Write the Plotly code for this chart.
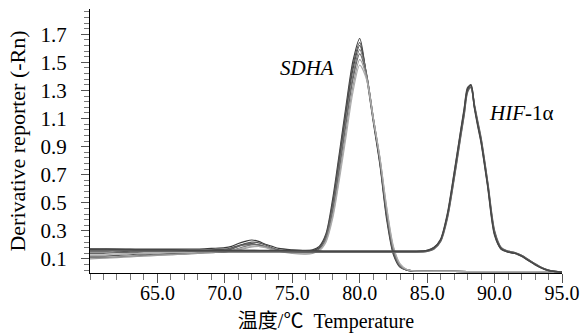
import plotly.graph_objects as go

# ---------------- data ----------------
sdha_x = [60, 61, 62, 63, 64, 65, 66, 67, 68, 69, 70, 70.5, 71, 71.5, 72, 72.5, 73, 73.5, 74, 75, 76, 76.5,
          77, 77.5, 78, 78.5, 79, 79.5, 80, 80.5, 81, 81.5, 82, 82.5, 83, 83.5,
          84, 86, 88, 90, 92, 94, 95]

sdha_1 = [0.17, 0.17, 0.17, 0.17, 0.17, 0.17, 0.17, 0.17, 0.17, 0.175, 0.18, 0.19, 0.21, 0.225, 0.235, 0.225, 0.205, 0.19, 0.175, 0.165, 0.16, 0.165,
          0.19, 0.28, 0.53, 0.86, 1.20, 1.51, 1.67, 1.40, 1.08, 0.77, 0.38, 0.13, 0.04, 0.02,
          0.015, 0.012, 0.01, 0.01, 0.01, 0.008, 0.005]
sdha_2 = [0.12, 0.12, 0.125, 0.13, 0.13, 0.135, 0.14, 0.14, 0.145, 0.15, 0.16, 0.17, 0.19, 0.21, 0.22, 0.215, 0.20, 0.18, 0.165, 0.15, 0.15, 0.155,
          0.18, 0.27, 0.50, 0.83, 1.17, 1.48, 1.64, 1.41, 1.09, 0.78, 0.40, 0.14, 0.045, 0.02,
          0.015, 0.012, 0.01, 0.01, 0.01, 0.008, 0.005]
sdha_3 = [0.15, 0.15, 0.15, 0.155, 0.155, 0.16, 0.16, 0.16, 0.16, 0.165, 0.17, 0.18, 0.195, 0.205, 0.21, 0.20, 0.185, 0.17, 0.16, 0.155, 0.155, 0.16,
          0.18, 0.26, 0.48, 0.80, 1.14, 1.45, 1.62, 1.42, 1.10, 0.79, 0.41, 0.15, 0.05, 0.02,
          0.015, 0.012, 0.01, 0.01, 0.01, 0.008, 0.005]
sdha_4 = [0.11, 0.11, 0.115, 0.12, 0.125, 0.13, 0.13, 0.135, 0.14, 0.145, 0.15, 0.16, 0.175, 0.19, 0.20, 0.20, 0.19, 0.175, 0.16, 0.145, 0.14, 0.145,
          0.17, 0.25, 0.46, 0.77, 1.10, 1.41, 1.59, 1.42, 1.11, 0.80, 0.43, 0.16, 0.05, 0.022,
          0.015, 0.012, 0.01, 0.01, 0.01, 0.008, 0.005]
sdha_5 = [0.14, 0.14, 0.145, 0.145, 0.15, 0.15, 0.15, 0.15, 0.155, 0.16, 0.165, 0.175, 0.19, 0.20, 0.205, 0.20, 0.185, 0.17, 0.16, 0.15, 0.145, 0.15,
          0.17, 0.24, 0.44, 0.74, 1.07, 1.38, 1.56, 1.41, 1.11, 0.81, 0.44, 0.17, 0.055, 0.022,
          0.015, 0.012, 0.01, 0.01, 0.01, 0.008, 0.005]
sdha_6 = [0.10, 0.105, 0.11, 0.115, 0.12, 0.125, 0.13, 0.135, 0.14, 0.145, 0.15, 0.155, 0.165, 0.175, 0.185, 0.19, 0.185, 0.17, 0.155, 0.14, 0.135, 0.14,
          0.16, 0.23, 0.41, 0.70, 1.02, 1.33, 1.52, 1.40, 1.11, 0.82, 0.46, 0.18, 0.06, 0.025,
          0.015, 0.012, 0.01, 0.01, 0.01, 0.008, 0.005]
sdha_7 = [0.13, 0.13, 0.135, 0.14, 0.14, 0.14, 0.145, 0.145, 0.15, 0.15, 0.155, 0.16, 0.17, 0.18, 0.19, 0.19, 0.18, 0.165, 0.155, 0.145, 0.14, 0.145,
          0.16, 0.22, 0.39, 0.67, 0.98, 1.29, 1.48, 1.38, 1.10, 0.82, 0.47, 0.19, 0.065, 0.025,
          0.015, 0.012, 0.01, 0.01, 0.01, 0.008, 0.005]

hif_x = [60, 62, 64, 66, 68, 70, 72, 74, 76, 78, 80, 82, 84, 85, 85.5, 86, 86.5, 87, 87.5, 87.75, 88, 88.25, 88.5,
         88.75, 89, 89.5, 90, 90.5, 91, 91.5, 92, 92.5, 93, 93.5, 94, 94.5, 95]

hif_1 = [0.17, 0.165, 0.165, 0.16, 0.16, 0.16, 0.16, 0.155, 0.155, 0.155, 0.155, 0.155, 0.155, 0.16, 0.18, 0.235, 0.41, 0.70, 1.01, 1.16, 1.32, 1.335, 1.19,
         1.06, 0.94, 0.62, 0.28, 0.17, 0.15, 0.14, 0.12, 0.09, 0.06, 0.035, 0.018, 0.01, 0.005]
hif_2 = [0.165, 0.16, 0.16, 0.16, 0.155, 0.155, 0.155, 0.155, 0.15, 0.15, 0.15, 0.15, 0.15, 0.155, 0.175, 0.23, 0.40, 0.68, 0.99, 1.14, 1.30, 1.325, 1.19,
         1.07, 0.95, 0.63, 0.29, 0.175, 0.155, 0.145, 0.125, 0.095, 0.065, 0.037, 0.02, 0.01, 0.005]
hif_3 = [0.16, 0.16, 0.155, 0.155, 0.155, 0.15, 0.15, 0.15, 0.15, 0.15, 0.15, 0.15, 0.15, 0.155, 0.17, 0.225, 0.39, 0.67, 0.98, 1.13, 1.29, 1.32, 1.20,
         1.08, 0.96, 0.64, 0.30, 0.18, 0.155, 0.145, 0.125, 0.095, 0.065, 0.038, 0.02, 0.01, 0.005]
hif_4 = [0.17, 0.17, 0.165, 0.165, 0.16, 0.16, 0.16, 0.16, 0.16, 0.155, 0.155, 0.155, 0.155, 0.16, 0.18, 0.24, 0.42, 0.71, 1.02, 1.17, 1.31, 1.34, 1.18,
         1.05, 0.93, 0.61, 0.27, 0.17, 0.15, 0.14, 0.12, 0.09, 0.06, 0.035, 0.018, 0.01, 0.005]

x_ticks = [65, 70, 75, 80, 85, 90, 95]
x_tick_text = ["65.0", "70.0", "75.0", "80.0", "85.0", "90.0", "95.0"]
y_ticks = [0.1, 0.3, 0.5, 0.7, 0.9, 1.1, 1.3, 1.5, 1.7]
y_tick_text = ["0.1", "0.3", "0.5", "0.7", "0.9", "1.1", "1.3", "1.5", "1.7"]

sdha_series = [sdha_1, sdha_2, sdha_3, sdha_4, sdha_5, sdha_6, sdha_7]
sdha_colors = ["#3c3c3c", "#5a5a5a", "#4a4a4a", "#7a7a7a", "#666666", "#9a9a9a", "#adadad"]
hif_series = [hif_1, hif_2, hif_3, hif_4]
hif_colors = ["#505050", "#5e5e5e", "#666666", "#474747"]

SERIF = "Liberation Serif, Times New Roman, Noto Sans CJK SC, serif"

fig = go.Figure()
for ys, c in zip(sdha_series, sdha_colors):
    fig.add_trace(go.Scatter(x=sdha_x, y=ys, mode="lines",
                             line=dict(color=c, width=1.2, shape="spline", smoothing=0.8),
                             showlegend=False, hoverinfo="skip"))
for ys, c in zip(hif_series, hif_colors):
    fig.add_trace(go.Scatter(x=hif_x, y=ys, mode="lines",
                             line=dict(color=c, width=1.5, shape="spline", smoothing=0.8),
                             showlegend=False, hoverinfo="skip"))

fig.add_annotation(x=76.1, y=1.46, text="<i>SDHA</i>", showarrow=False,
                   font=dict(family=SERIF, size=21, color="black"))
fig.add_annotation(x=92.0, y=1.14, text="<i>HIF</i>-1α", showarrow=False,
                   font=dict(family=SERIF, size=21, color="black"))

fig.update_layout(
    width=581, height=336,
    margin=dict(l=90, r=19, t=9, b=63),
    paper_bgcolor="white", plot_bgcolor="white",
    font=dict(family=SERIF, size=20, color="black"),
    xaxis=dict(
        range=[60, 95], tickvals=x_ticks, ticktext=x_tick_text,
        showline=True, linecolor="black", linewidth=1.2,
        ticks="outside", ticklen=9, tickcolor="#555", tickwidth=1,
        showgrid=False, zeroline=False, automargin=False,
        minor=dict(dtick=1, tick0=60, ticks="outside", ticklen=6, tickcolor="#777", showgrid=False),
        tickfont=dict(family=SERIF, size=20),
        ticklabelstandoff=-7,
        title=dict(text="温度/℃  Temperature", font=dict(family=SERIF, size=20), standoff=10),
    ),
    yaxis=dict(
        range=[0, 1.88], tickvals=y_ticks, ticktext=y_tick_text,
        showline=True, linecolor="black", linewidth=1.2,
        ticks="outside", ticklen=8, tickcolor="#555", tickwidth=1,
        showgrid=False, zeroline=False, automargin=False,
        minor=dict(dtick=0.04, tick0=0.1, ticks="outside", ticklen=5, tickcolor="#777", showgrid=False),
        tickfont=dict(family=SERIF, size=21),
        ticklabelstandoff=10,
        title=dict(text="Derivative reporter (-Rn)", font=dict(family=SERIF, size=22), standoff=8),
    ),
)

fig.write_html("out.html", config={"displayModeBar": False},
               post_script="document.body.style.margin='0';")
